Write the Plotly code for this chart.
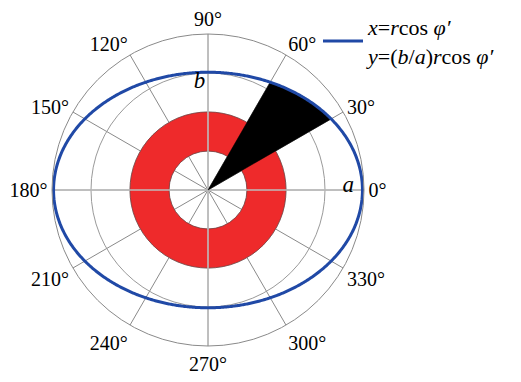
import numpy as np
import plotly.graph_objects as go

# Ellipse semi-axes (radial units) and the shaded regions
semi_major_a = 3.96
semi_minor_b = 3.02
ring_inner = 1.0
ring_outer = 2.0
wedge_start_deg = 30
wedge_end_deg = 60
axis_spokes_deg = [0, 90, 180, 270]
radial_max = 4.0
angle_ticks = [0, 30, 60, 90, 120, 150, 180, 210, 240, 270, 300, 330]
angle_labels = [f"{t}°" for t in angle_ticks]

BLUE = "#2049a6"
RED = "#ee2a2b"
SERIF = "Liberation Serif"


def ellipse_radius(theta_deg):
    t = np.radians(theta_deg)
    return semi_major_a * semi_minor_b / np.sqrt(
        (semi_minor_b * np.cos(t)) ** 2 + (semi_major_a * np.sin(t)) ** 2
    )


fig = go.Figure()

# Light main axes through the centre
for ang in axis_spokes_deg[:2]:
    fig.add_trace(go.Scatterpolar(
        r=[radial_max, 0, radial_max], theta=[ang, ang, ang + 180],
        mode="lines", line=dict(color="#bdbdbd", width=1.6),
        showlegend=False, hoverinfo="skip"))

# Red annulus
fig.add_trace(go.Barpolar(
    r=[ring_outer - ring_inner], base=[ring_inner], theta=[0], width=[360],
    marker=dict(color=RED, line=dict(color="#6a3a3a", width=0.6)),
    showlegend=False, hoverinfo="skip"))

# Black sector bounded by the ellipse
wedge_theta = np.linspace(wedge_start_deg, wedge_end_deg, 60)
wedge_r = ellipse_radius(wedge_theta)
fig.add_trace(go.Scatterpolar(
    r=np.concatenate([[0], wedge_r, [0]]),
    theta=np.concatenate([[wedge_start_deg], wedge_theta, [wedge_end_deg]]),
    mode="lines", fill="toself", fillcolor="black",
    line=dict(color="black", width=0.5),
    showlegend=False, hoverinfo="skip"))

# Ellipse outline
phi = np.linspace(0, 360, 721)
fig.add_trace(go.Scatterpolar(
    r=ellipse_radius(phi), theta=phi, mode="lines",
    line=dict(color=BLUE, width=3),
    name="<i>x</i>=<i>r</i>cos <i>φ′</i><br><i>y</i>=(<i>b</i>/<i>a</i>)<i>r</i>cos <i>φ′</i>"))

# Semi-axis labels
fig.add_trace(go.Scatterpolar(
    r=[3.6, 2.78], theta=[1.5, 94.5], mode="text",
    text=["<i>a</i>", "<i>b</i>"],
    textfont=dict(family=SERIF, size=23, color="black"),
    showlegend=False, hoverinfo="skip"))

W, H = 521, 382
cx, cy, rad = 208, 190, 156
fig.update_layout(
    width=W, height=H,
    margin=dict(l=0, r=0, t=0, b=0),
    paper_bgcolor="white", plot_bgcolor="white",
    font=dict(family=SERIF, size=19, color="black"),
    polar=dict(
        domain=dict(x=[(cx - rad) / W, (cx + rad) / W],
                    y=[(H - cy - rad) / H, (H - cy + rad) / H]),
        bgcolor="white",
        radialaxis=dict(range=[0, radial_max], tickvals=[1, 2, 3, 4],
                        showticklabels=False, ticks="", showline=False,
                        gridcolor="#9a9a9a", gridwidth=0.8),
        angularaxis=dict(tickvals=angle_ticks, ticktext=angle_labels,
                         direction="counterclockwise", rotation=0,
                         ticks="", showline=True, linecolor="#8a8a8a",
                         linewidth=1, gridcolor="#8a8a8a", gridwidth=0.7,
                         tickfont=dict(family=SERIF, size=20, color="black")),
    ),
    legend=dict(x=318 / W, y=1 - 6 / H, xanchor="left", yanchor="top",
                bgcolor="rgba(0,0,0,0)", itemwidth=40,
                font=dict(family=SERIF, size=22, color="black"),
                tracegroupgap=0),
    showlegend=True,
)

fig.write_html("out.html")
